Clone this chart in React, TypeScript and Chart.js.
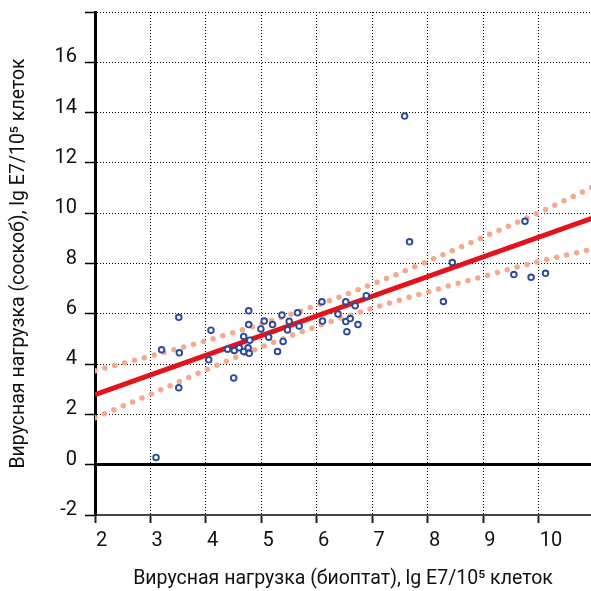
import React, { useEffect, useRef } from 'react';
import { Chart, registerables } from 'chart.js';

Chart.register(...registerables);

// Observed values: viral load in biopsy (x) vs scraping (y), lg E7/10^5 cells
const biopsyLoad = [
  3.10, 3.20, 3.51, 3.52, 3.51, 4.09, 4.05, 4.50, 4.39, 4.51, 4.60, 4.68, 4.76, 4.78, 4.79, 4.68,
  4.77, 4.77, 4.99, 5.05, 5.20, 5.13, 5.29, 5.37, 5.39, 5.50, 5.47, 5.65, 5.68, 6.09, 6.10, 6.38,
  6.52, 6.69, 6.89, 6.52, 6.60, 6.74, 6.54, 7.58, 7.67, 8.44, 8.28, 9.75, 9.55, 9.86, 10.12,
];
const scrapeLoad = [
  0.29, 4.57, 5.86, 4.45, 3.06, 5.35, 4.17, 3.45, 4.59, 4.54, 4.65, 4.50, 4.65, 4.43, 4.95, 5.10,
  5.57, 6.12, 5.40, 5.71, 5.57, 5.07, 4.50, 5.95, 4.90, 5.70, 5.36, 6.04, 5.51, 6.48, 5.71, 5.99,
  6.48, 6.32, 6.72, 5.69, 5.81, 5.57, 5.29, 13.86, 8.86, 8.04, 6.49, 9.68, 7.56, 7.45, 7.61,
];

// Regression line
const fitX = [2, 11];
const fitY = [2.79, 9.83];

// Confidence band
const bandX = [2, 3, 4, 5, 6, 7, 8, 9, 10, 11];
const bandUpper = [3.74, 4.32, 4.93, 5.6, 6.34, 7.18, 8.09, 9.05, 10.02, 11.07];
const bandLower = [1.87, 2.8, 3.77, 4.68, 5.5, 6.22, 6.87, 7.49, 8.08, 8.59];

// Axes
const xTicks = [2, 3, 4, 5, 6, 7, 8, 9, 10];
const xMin = 2;
const xMax = 10.94;
const yMin = -2;
const yMax = 18;
const yStep = 2;
const hiddenYLabel = 18;

const xTitle = 'Вирусная нагрузка (биоптат), lg E7/10⁵ клеток';
const yTitle = 'Вирусная нагрузка (соскоб), lg E7/10⁵ клеток';

const FONT = 'Roboto';

export default function App() {
  const ref = useRef<HTMLCanvasElement | null>(null);

  useEffect(() => {
    if (!ref.current) return;
    const pts = biopsyLoad.map((x, i) => ({ x, y: scrapeLoad[i] }));
    const fit = fitX.map((x, i) => ({ x, y: fitY[i] }));
    const up = bandX.map((x, i) => ({ x, y: bandUpper[i] }));
    const lo = bandX.map((x, i) => ({ x, y: bandLower[i] }));

    const bandStyle = {
      showLine: true,
      borderColor: '#f5a98f',
      backgroundColor: '#f5a98f',
      borderWidth: 5.5,
      borderDash: [0, 10.2],
      borderCapStyle: 'round' as const,
      pointRadius: 0,
      cubicInterpolationMode: 'monotone' as const,
      fill: false,
      order: 3,
    };

    const chart = new Chart(ref.current, {
      type: 'scatter',
      data: {
        datasets: [
          {
            label: 'points',
            data: pts,
            pointRadius: 2.8,
            pointBorderWidth: 1.9,
            pointBorderColor: '#2a4b9b',
            pointBackgroundColor: '#ffffff',
            showLine: false,
            order: 0,
          },
          {
            label: 'fit',
            data: fit,
            showLine: true,
            borderColor: '#e3131b',
            borderWidth: 5,
            pointRadius: 0,
            order: 1,
          },
          { label: 'upper', data: up, ...bandStyle },
          { label: 'lower', data: lo, ...bandStyle },
        ],
      },
      options: {
        animation: false,
        responsive: false,
        devicePixelRatio: 1,
        layout: { autoPadding: false, padding: { top: 12, left: 0, right: 0, bottom: 0 } },
        plugins: { legend: { display: false }, tooltip: { enabled: false } },
        scales: {
          x: {
            type: 'linear',
            min: xMin,
            max: xMax,
            afterBuildTicks: (scale: any) => {
              scale.ticks = xTicks.map((v) => ({ value: v }));
            },
            afterFit: (scale: any) => {
              scale.height = 76;
              scale.paddingLeft = 0;
              scale.paddingRight = 0;
            },
            ticks: {
              autoSkip: false,
              maxRotation: 0,
              align: 'start',
              labelOffset: 1,
              padding: 6,
              color: '#111',
              font: { family: FONT, size: 20 },
            },
            grid: {
              color: '#000',
              lineWidth: 1,
              tickLength: 8,
              tickWidth: 2,
              tickColor: '#222',
              tickBorderDash: [],
            },
            border: { display: true, color: '#444', width: 2, dash: [1, 2] },
            title: {
              display: true,
              text: xTitle,
              color: '#111',
              font: { family: FONT, size: 19.5 },
              padding: { top: 0, bottom: 0 },
            },
          },
          y: {
            type: 'linear',
            min: yMin,
            max: yMax,
            afterFit: (scale: any) => {
              scale.width = 95;
              scale.paddingTop = 0;
              scale.paddingBottom = 0;
            },
            ticks: {
              stepSize: yStep,
              autoSkip: false,
              labelOffset: -5,
              padding: 8,
              color: '#111',
              font: { family: FONT, size: 20 },
              callback: (v: any) => (Number(v) === hiddenYLabel ? '' : String(v)),
            },
            grid: {
              color: '#000',
              lineWidth: (ctx: any) => (ctx.tick && ctx.tick.value === 0 ? 3 : 1),
              tickLength: 10,
              tickWidth: 1.5,
              tickColor: '#000',
              tickBorderDash: [],
            },
            border: {
              display: true,
              color: '#000',
              width: 3,
              dash: (ctx: any) => (ctx.tick && ctx.tick.value === 0 ? [] : [1, 2]),
            },
            title: {
              display: true,
              text: yTitle,
              color: '#111',
              font: { family: FONT, size: 19.5 },
              padding: { top: 7, bottom: 0 },
            },
          },
        },
      },
    } as any);
    return () => chart.destroy();
  }, []);

  return (
    <div style={{ position: 'absolute', left: 0, top: 0, width: 591, height: 591, background: '#fff' }}>
      <canvas ref={ref} width={591} height={591} style={{ width: 591, height: 591, display: 'block' }} />
    </div>
  );
}
